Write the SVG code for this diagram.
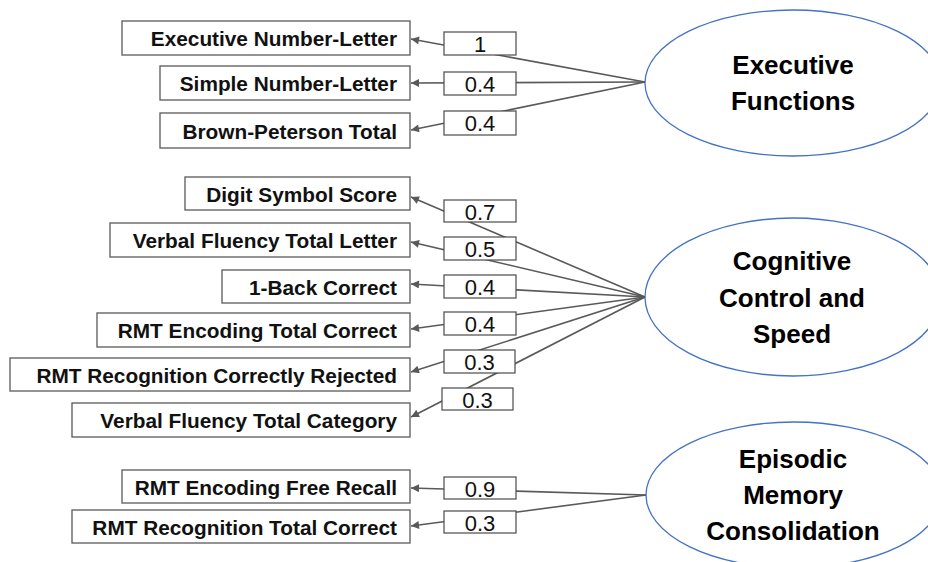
<svg xmlns="http://www.w3.org/2000/svg" width="928" height="562" viewBox="0 0 928 562">
<style>
  .box { fill: #ffffff; stroke: #595959; stroke-width: 1.3; }
  .wbox { fill: #ffffff; stroke: #4a4a4a; stroke-width: 1.2; }
  .lbl { font-family: "Liberation Sans", Arial, sans-serif; font-weight: bold; font-size: 20.8px; fill: #111111; text-anchor: end; }
  .wt { font-family: "Liberation Sans", Arial, sans-serif; font-size: 22px; fill: #111111; text-anchor: middle; }
  .lat { fill: #ffffff; stroke: #4472C4; stroke-width: 1.3; }
  .latt { font-family: "Liberation Sans", Arial, sans-serif; font-weight: bold; font-size: 26px; fill: #000000; text-anchor: middle; }
  .edge { fill: none; stroke: #595959; stroke-width: 1.6; }
</style>
<defs>
  <marker id="arr" viewBox="0 0 10 10" refX="10" refY="5" markerWidth="9" markerHeight="8" markerUnits="userSpaceOnUse" orient="auto">
    <path d="M0,0 L10,5 L0,10 z" fill="#595959"/>
  </marker>
</defs>

<g id="latent-executive">
  <ellipse class="lat" cx="793" cy="83" rx="148" ry="73"/>
  <text class="latt" x="793" y="74">Executive</text>
  <text class="latt" x="793" y="110">Functions</text>
</g>
<g id="latent-cognitive">
  <ellipse class="lat" cx="793" cy="297" rx="148" ry="79"/>
  <text class="latt" x="792" y="270">Cognitive</text>
  <text class="latt" x="792" y="306.5">Control and</text>
  <text class="latt" x="792" y="343">Speed</text>
</g>
<g id="latent-episodic">
  <ellipse class="lat" cx="794" cy="495" rx="148" ry="73"/>
  <text class="latt" x="793" y="468">Episodic</text>
  <text class="latt" x="793" y="504">Memory</text>
  <text class="latt" x="793" y="540">Consolidation</text>
</g>

<g id="connectors">
  <line class="edge" x1="645" y1="82" x2="411" y2="39" marker-end="url(#arr)"/>
  <line class="edge" x1="645" y1="82" x2="411" y2="83" marker-end="url(#arr)"/>
  <line class="edge" x1="645" y1="82" x2="411" y2="130" marker-end="url(#arr)"/>
  <line class="edge" x1="645" y1="297" x2="411" y2="197" marker-end="url(#arr)"/>
  <line class="edge" x1="645" y1="297" x2="411" y2="242" marker-end="url(#arr)"/>
  <line class="edge" x1="645" y1="297" x2="411" y2="284" marker-end="url(#arr)"/>
  <line class="edge" x1="645" y1="297" x2="411" y2="329" marker-end="url(#arr)"/>
  <line class="edge" x1="645" y1="297" x2="411" y2="372" marker-end="url(#arr)"/>
  <line class="edge" x1="645" y1="297" x2="411" y2="417" marker-end="url(#arr)"/>
  <line class="edge" x1="646" y1="495" x2="411" y2="488" marker-end="url(#arr)"/>
  <line class="edge" x1="646" y1="495" x2="411" y2="526" marker-end="url(#arr)"/>
  <g id="loadings">
    <rect class="wbox" x="444" y="32" width="72" height="23"/><text class="wt" x="480" y="52">1</text>
    <rect class="wbox" x="444" y="72" width="72" height="23"/><text class="wt" x="480" y="92">0.4</text>
    <rect class="wbox" x="444" y="111" width="72" height="24"/><text class="wt" x="480" y="131">0.4</text>
    <rect class="wbox" x="444" y="200" width="72" height="22"/><text class="wt" x="480" y="220">0.7</text>
    <rect class="wbox" x="444" y="237" width="72" height="23"/><text class="wt" x="480" y="257">0.5</text>
    <rect class="wbox" x="444" y="275" width="72" height="23"/><text class="wt" x="480" y="295">0.4</text>
    <rect class="wbox" x="444" y="312" width="72" height="23"/><text class="wt" x="480" y="332">0.4</text>
    <rect class="wbox" x="444" y="350" width="71" height="23"/><text class="wt" x="479.5" y="370">0.3</text>
    <rect class="wbox" x="442" y="388" width="71" height="22"/><text class="wt" x="477.5" y="408">0.3</text>
    <rect class="wbox" x="444" y="477" width="72" height="22"/><text class="wt" x="480" y="497">0.9</text>
    <rect class="wbox" x="444" y="511" width="72" height="22"/><text class="wt" x="480" y="531">0.3</text>
  </g>
</g>

<g id="ind-executive-number-letter"><rect class="box" x="122" y="21" width="288" height="34"/><text class="lbl" x="397" y="46">Executive Number-Letter</text></g>
<g id="ind-simple-number-letter"><rect class="box" x="160" y="66" width="250" height="34"/><text class="lbl" x="397" y="91">Simple Number-Letter</text></g>
<g id="ind-brown-peterson"><rect class="box" x="160" y="113" width="250" height="35"/><text class="lbl" x="397" y="138.5">Brown-Peterson Total</text></g>
<g id="ind-digit-symbol"><rect class="box" x="185" y="177" width="225" height="33"/><text class="lbl" x="397" y="201.5">Digit Symbol Score</text></g>
<g id="ind-vf-letter"><rect class="box" x="110" y="223" width="300" height="34"/><text class="lbl" x="397" y="248">Verbal Fluency Total Letter</text></g>
<g id="ind-1back"><rect class="box" x="222" y="270" width="188" height="33"/><text class="lbl" x="397" y="294.5">1-Back Correct</text></g>
<g id="ind-rmt-enc-total"><rect class="box" x="97" y="313" width="313" height="34"/><text class="lbl" x="397" y="338">RMT Encoding Total Correct</text></g>
<g id="ind-rmt-recog-rejected"><rect class="box" x="10" y="358" width="400" height="33"/><text class="lbl" x="397" y="383">RMT Recognition Correctly Rejected</text></g>
<g id="ind-vf-category"><rect class="box" x="72" y="403" width="338" height="34"/><text class="lbl" x="397" y="428">Verbal Fluency Total Category</text></g>
<g id="ind-rmt-enc-free"><rect class="box" x="122" y="470" width="288" height="33"/><text class="lbl" x="397" y="494.5">RMT Encoding Free Recall</text></g>
<g id="ind-rmt-recog-total"><rect class="box" x="72" y="510" width="338" height="33"/><text class="lbl" x="397" y="534.5">RMT Recognition Total Correct</text></g>
</svg>
